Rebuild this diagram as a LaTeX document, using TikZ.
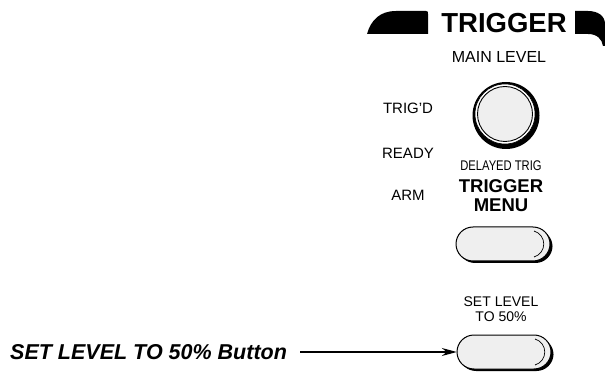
\documentclass[tikz,border=0pt]{standalone}
\usepackage{fontspec}
\setmainfont{Liberation Sans}
\usetikzlibrary{arrows.meta}
\definecolor{btngray}{RGB}{239,239,239}
\tikzset{
  lbl/.style={inner sep=0pt, anchor=base, font=\fontsize{15}{15}\selectfont},
  small/.style={inner sep=0pt, anchor=base, font=\fontsize{14}{14}\selectfont},
  boldlbl/.style={inner sep=0pt, anchor=base, font=\fontsize{18.5}{18.5}\selectfont\bfseries},
  pointer/.style={line width=1.3pt, -{Stealth[length=15pt,width=8pt]}},
  btnshadow/.style={fill=black, rounded corners=17pt},
  btnface/.style={draw=black, line width=1pt, fill=btngray, rounded corners=17pt},
  btnrim/.style={line width=0.7pt},
}
\begin{document}
\begin{tikzpicture}[x=1pt,y=-1pt]
\useasboundingbox (0,0) rectangle (605,379);
% header
\fill (367,34) .. controls (371,20) and (380,11) .. (396,11) -- (426,11)
  .. controls (428,11) and (428,12) .. (428,14) -- (428,34) -- cycle;
\node[inner sep=0pt, anchor=base, font=\fontsize{27.5}{27.5}\selectfont\bfseries] (title) at (504,33) {TRIGGER};
\fill (575,11) -- (588,11) .. controls (598,11) and (605,16) .. (605,24) -- (605,46)
  -- (603,46) .. controls (602,39) and (597,34) .. (588,34) -- (575,34) -- cycle;
% main level knob
\node[lbl, font=\fontsize{16}{16}\selectfont] (mainlevel) at (499,63) {MAIN LEVEL};
\coordinate (knobc) at (505,114);
\fill[black] (506,115.5) circle[radius=33.5];
\fill[white] (knobc) circle[radius=30];
\draw[line width=0.9pt, fill=btngray] (knobc) circle[radius=27.5];
\draw[line width=0.6pt] (knobc) circle[radius=30];
\node[circle, minimum size=67pt, inner sep=0pt] (knob) at (knobc) {};
% status labels
\node[lbl] (trigd) at (408,114) {TRIG'D};
\node[lbl] (ready) at (408,158.5) {READY};
\node[lbl] (arm) at (408,201) {ARM};
% trigger menu
\node[inner sep=0pt, anchor=base, font=\fontsize{14}{14}\selectfont, xscale=0.8] (delayed) at (501,171) {DELAYED TRIG};
\node[boldlbl] (trigmenu1) at (501,193) {TRIGGER};
\node[boldlbl] (trigmenu2) at (501,211.5) {MENU};
% trigger menu button
\fill[btnshadow] (458,229.5) rectangle (552.5,263);
\path[btnface] (456,227) rectangle (550,261);
\draw[btnrim] (534,231) .. controls (547,235) and (547,253) .. (534,257);
\node[minimum width=94pt, minimum height=34pt, inner sep=0pt] (menubtn) at (503,244) {};
% set level
\node[small] (setlevel1) at (501,307) {SET LEVEL};
\node[small] (setlevel2) at (501,322) {TO 50\%};
\fill[btnshadow] (459,337.5) rectangle (553.5,371);
\path[btnface] (457,335) rectangle (551,369);
\draw[btnrim] (535,339) .. controls (548,343) and (548,361) .. (535,365);
\node[minimum width=94pt, minimum height=34pt, inner sep=0pt] (setbtn) at (504,352) {};
% callout
\node[inner sep=0pt, anchor=base west, font=\fontsize{21.5}{21.5}\selectfont\bfseries\itshape] (callout) at (10,359) {SET LEVEL TO 50\% Button};
\draw[pointer, shorten <=13pt] (callout.east |- setbtn.west) -- (setbtn.west);
\end{tikzpicture}
\end{document}
